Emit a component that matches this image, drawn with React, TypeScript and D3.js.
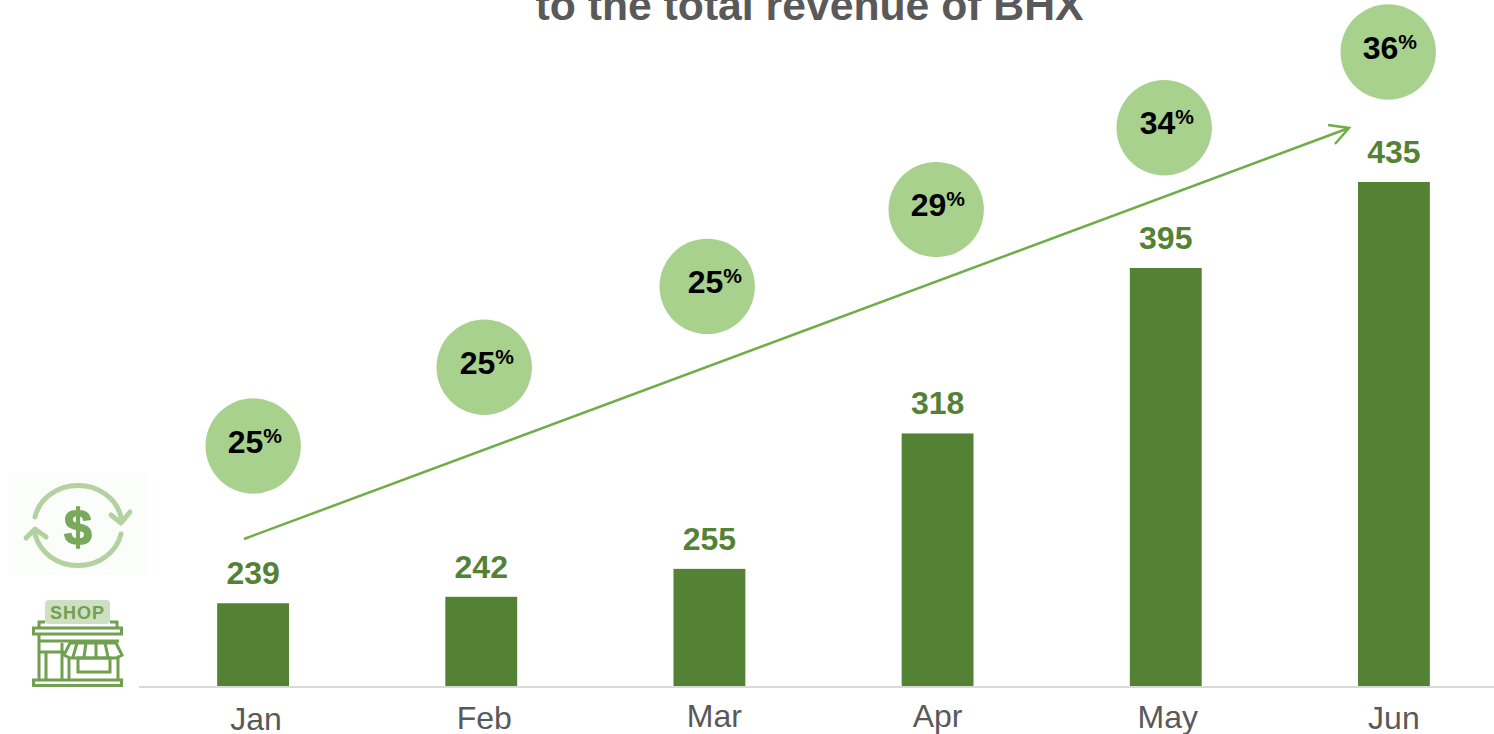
import React, { useEffect, useRef } from "react";
import * as d3 from "d3";

const months = ["Jan", "Feb", "Mar", "Apr", "May", "Jun"];
const revenue = [239, 242, 255, 318, 395, 435];
const shares = [25, 25, 25, 29, 34, 36];

const width = 1494;
const height = 734;
const baseY = 686;

// hand placement offsets seen in the slide
const labelNudge = [
  [3, 2],
  [3, 1],
  [5, -1],
  [0, -1],
  [2, 0],
  [0, 1],
];
const bubbleNudge = [
  [0.2, 0],
  [4.2, 0],
  [0.2, -2],
  [2.2, 0],
  [3.2, -3],
  [0.2, 0],
];
const shareNudge = [0, 1, 6, 0, 1, 0];

const dark = "#548235";
const bubble = "#a9d18e";
const arrow = "#70ad47";
const grey = "#595959";
const font = "'Liberation Sans', Arial, sans-serif";

const App = () => {
  const ref = useRef<SVGSVGElement>(null);

  useEffect(() => {
    const svg = d3.select(ref.current);
    svg.selectAll("*").remove();

    const x = d3.scaleBand().domain(months).range([139, 1508]).paddingInner(0.685).paddingOuter(0.3425);
    const y = d3.scaleLinear().domain([200.5, 435]).range([baseY, 182]);
    const bubbleX = d3.scaleLinear().domain([0, 5]).range([253, 1388]);
    const bubbleY = d3.scaleLinear().domain([0, 5]).range([446, 52]);

    svg
      .append("text")
      .attr("x", 809.5)
      .attr("y", 20)
      .attr("text-anchor", "middle")
      .attr("font-family", font)
      .attr("font-weight", "bold")
      .attr("font-size", 42.7)
      .attr("fill", grey)
      .text("to the total revenue of BHX");

    svg
      .selectAll("rect.bar")
      .data(revenue)
      .enter()
      .append("rect")
      .attr("class", "bar")
      .attr("x", (d, i) => x(months[i]) as number)
      .attr("y", (d) => y(d))
      .attr("width", x.bandwidth())
      .attr("height", (d) => baseY - y(d))
      .attr("fill", dark);

    svg
      .selectAll("text.value")
      .data(revenue)
      .enter()
      .append("text")
      .attr("class", "value")
      .attr("x", (d, i) => (x(months[i]) as number) + x.bandwidth() / 2)
      .attr("y", (d) => y(d) - 19)
      .attr("text-anchor", "middle")
      .attr("font-family", font)
      .attr("font-weight", "bold")
      .attr("font-size", 32)
      .attr("fill", dark)
      .text((d) => d);

    const axis = svg
      .append("g")
      .attr("transform", `translate(0,${baseY + 1})`)
      .call(d3.axisBottom(x).tickSize(0).tickPadding(18));
    axis.select(".domain").attr("stroke", "#d9d9d9").attr("stroke-width", 2).attr("d", "M139,0H1494");
    axis
      .selectAll("text")
      .attr("font-family", font)
      .attr("font-size", 32)
      .attr("fill", grey)
      .attr("transform", (d, i) => `translate(${labelNudge[i][0]},${labelNudge[i][1]})`);

    const bubbles = svg
      .selectAll("g.bubble")
      .data(shares)
      .enter()
      .append("g")
      .attr("class", "bubble")
      .attr("transform", (d, i) => `translate(${bubbleX(i) + bubbleNudge[i][0]},${bubbleY(i) + bubbleNudge[i][1]})`);
    bubbles.append("circle").attr("r", 47.7).attr("fill", bubble);
    const pct = bubbles
      .append("text")
      .attr("x", (d, i) => -25.5 + shareNudge[i])
      .attr("y", 6.5)
      .attr("font-family", font)
      .attr("font-weight", "bold")
      .attr("font-size", 32)
      .attr("fill", "#000");
    pct.append("tspan").text((d) => d);
    pct.append("tspan").attr("font-size", 21).attr("dy", -10).text("%");

    // trend arrow
    const trend = d3.line();
    svg
      .append("path")
      .attr("d", trend([[244, 539], [1349, 128]]))
      .attr("fill", "none")
      .attr("stroke", arrow)
      .attr("stroke-width", 2.5);
    svg
      .append("path")
      .attr("d", trend([[1328, 125], [1349, 128], [1335, 144]]))
      .attr("fill", "none")
      .attr("stroke", arrow)
      .attr("stroke-width", 2.5);

    // money icon
    const money = svg.append("g");
    money.append("rect").attr("x", 9).attr("y", 472).attr("width", 138).attr("height", 103).attr("fill", "#fbfdfa");
    const loop = money
      .append("g")
      .attr("fill", "none")
      .attr("stroke", "#b4d2a0")
      .attr("stroke-width", 5)
      .attr("stroke-linecap", "round")
      .attr("stroke-linejoin", "round");
    loop.append("path").attr("d", "M35,517 A44,40 0 0 1 121,517");
    loop.append("path").attr("d", trend([[111, 515], [121, 523], [130, 512]]));
    loop.append("path").attr("d", "M121,534 A44,40 0 0 1 35,534");
    loop.append("path").attr("d", trend([[26, 538], [35, 529], [46, 537]]));
    money
      .append("text")
      .attr("x", 78)
      .attr("y", 544)
      .attr("text-anchor", "middle")
      .attr("font-family", font)
      .attr("font-weight", "bold")
      .attr("font-size", 50)
      .attr("fill", "#78a95c")
      .attr("stroke", "#78a95c")
      .attr("stroke-width", 1.5)
      .text("$");

    // shop icon
    const shopColor = "#70a050";
    const shop = svg.append("g");
    shop.append("rect").attr("x", 45).attr("y", 600).attr("width", 65).attr("height", 24).attr("rx", 4).attr("fill", "#cfe0c2");
    shop
      .append("text")
      .attr("x", 77.5)
      .attr("y", 618.5)
      .attr("text-anchor", "middle")
      .attr("font-family", font)
      .attr("font-weight", "bold")
      .attr("font-size", 18)
      .attr("letter-spacing", 1)
      .attr("fill", shopColor)
      .text("SHOP");
    const lines = shop.append("g").attr("fill", "none").attr("stroke", shopColor).attr("stroke-width", 3);
    lines.append("path").attr("d", trend([[39, 627], [39, 622], [45, 622]]));
    lines.append("path").attr("d", trend([[110, 622], [117, 622], [117, 627]]));
    lines.append("rect").attr("x", 33.5).attr("y", 628).attr("width", 88).attr("height", 6);
    lines.append("rect").attr("x", 33.5).attr("y", 680).attr("width", 88).attr("height", 5.5);
    lines.append("path").attr("d", "M39,634V680M118,658V680M39,641H119M39,652H64");
    lines.append("path").attr("d", "M46,653V680M62,643V680M69,658V680");
    lines.append("rect").attr("x", 78).attr("y", 658).attr("width", 32).attr("height", 14);
    lines.append("path").attr("d", "M70,643H116L122,655L116,658H70L64,655Z M77,643L73,657 M86,643L84,657 M96,643V657 M105,643L108,657");
  }, []);

  return <svg ref={ref} width={width} height={height} style={{ position: "absolute", left: 0, top: 0 }} />;
};

export default App;
